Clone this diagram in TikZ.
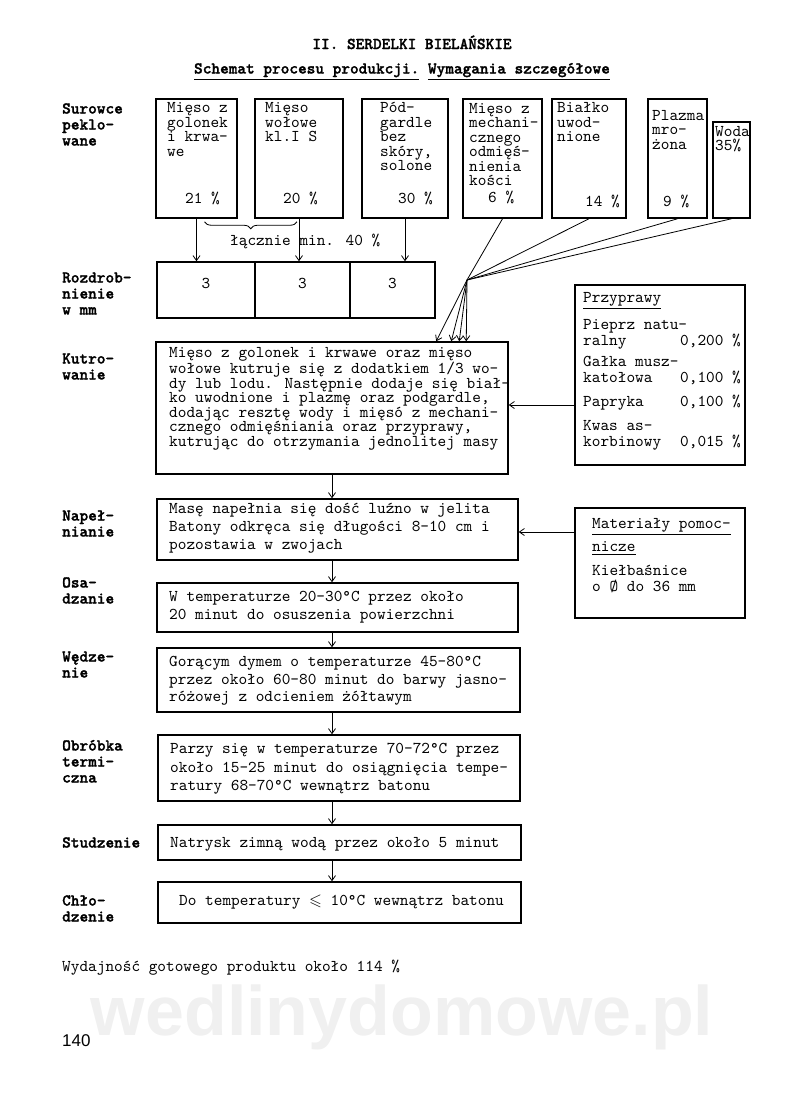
\documentclass[tikz,border=0pt]{standalone}
\usepackage{fontspec}
\usepackage{amssymb}
\setmainfont{Liberation Serif}
\newfontfamily\typewfont{lmmono10-regular.otf}[BoldFont=lmmonolt10-bold.otf,BoldFeatures={FakeBold=1.5}]
\newfontfamily\pagefont{Liberation Sans}
\usetikzlibrary{arrows.meta,decorations.pathreplacing,calc}
\tikzset{
  rawbox/.style={rectangle,draw,line width=1.5pt,inner sep=0pt},
  stepbox/.style={rectangle,draw,line width=1.5pt,inner sep=0pt},
  mincebox/.style={rectangle,draw,line width=1.5pt,inner sep=0pt,minimum height=56pt,text depth=14pt,font=\typewfont\fontsize{16.5}{16}\selectfont},
  txt/.style={anchor=base west,inner sep=0pt,align=left,font=\typewfont\fontsize{16.5}{#1}\selectfont},
  txt/.default=14,
  lbl/.style={anchor=base west,inner sep=0pt,align=left,font=\typewfont\bfseries\fontsize{16.5}{16}\selectfont},
  flow/.style={->,line width=0.8pt},
  feed/.style={line width=0.8pt}
}

\begin{document}
\begin{tikzpicture}[x=1pt,y=-1pt,>={Straight Barb[length=5pt,width=7pt]}]
  \useasboundingbox (0,0) rectangle (800,1098);
  \node[font=\typewfont\bfseries\fontsize{16.5}{16}\selectfont,anchor=base,inner sep=0pt] (title) at (412,49) {II. SERDELKI BIELAŃSKIE};
  \node[font=\typewfont\bfseries\fontsize{16.5}{16}\selectfont,anchor=base,inner sep=0pt] (subtitle) at (402,73.5) {\underline{Schemat procesu produkcji.} \underline{Wymagania szczegółowe}};

  \node[lbl] (surowce) at (62,145.5) {Surowce\\peklo-\\wane};
  \node[lbl] (rozdroblbl) at (62,314.5) {Rozdrob-\\nienie\\w mm};
  \node[lbl] (kutrolbl) at (62,379.5) {Kutro-\\wanie};
  \node[lbl] (naplbl) at (62,536.5) {Napeł-\\nianie};
  \node[lbl] (osadlbl) at (62,603.5) {Osa-\\dzanie};
  \node[lbl] (wedzlbl) at (62,677.5) {Wędze-\\nie};
  \node[lbl] (obroblbl) at (62,782.5) {Obróbka\\termi-\\czna};
  \node[lbl] (studlbl) at (62,847.5) {Studzenie};
  \node[lbl] (chlodlbl) at (62,921.5) {Chło-\\dzenie};

  \node[rawbox,minimum width=81,minimum height=119] (golonek) at (196.5,158.5) {};
  \node[rawbox,minimum width=88,minimum height=119] (wolowe) at (299,158.5) {};
  \node[rawbox,minimum width=86,minimum height=119] (podgardle) at (405,158.5) {};
  \node[rawbox,minimum width=79,minimum height=119] (mech) at (502.5,158.5) {};
  \node[rawbox,minimum width=74,minimum height=119] (bialko) at (589,158.5) {};
  \node[rawbox,minimum width=59,minimum height=119] (plazma) at (677.5,158.5) {};
  \node[rawbox,minimum width=37,minimum height=96] (woda) at (731.5,170) {};
  \node[txt=14.5] (golonektxt) at (167,156) {Mięso z\\golonek\\i krwa-\\we};
  \node[txt] (golonekpct) at (185,203.5) {21 \%};
  \node[txt=14.5] (wolowetxt) at (265,141.5) {Mięso\\wołowe\\kl.I S};
  \node[txt] (wolowepct) at (283,203.5) {20 \%};
  \node[txt=14.5] (podgardletxt) at (380,170.5) {Pód-\\gardle\\bez\\skóry,\\solone};
  \node[txt] (podgardlepct) at (398,203.5) {30 \%};
  \node[txt=14.5] (mechtxt) at (469,185.5) {Mięso z\\mechani-\\cznego\\odmięś-\\nienia\\kości};
  \node[txt] (mechpct) at (488,202) {6 \%};
  \node[txt=14.5] (bialkotxt) at (557,141.5) {Białko\\uwod-\\nione};
  \node[txt] (bialkopct) at (585,206.5) {14 \%};
  \node[txt=14.5] (plazmatxt) at (652,149) {Plazma\\mro-\\żona};
  \node[txt] (plazmapct) at (663,206.5) {9 \%};
  \node[txt=14.5] (wodatxt) at (715,150.5) {Woda\\35\%};

  \node[mincebox,minimum width=98] (r1) at (206,290) {3};
  \node[mincebox,minimum width=95] (r2) at (302.5,290) {3};
  \node[mincebox,minimum width=85] (r3) at (392.5,290) {3};
  \draw[flow] (golonek.south) -- (golonek.south |- r1.north);
  \draw[flow] (wolowe.south) -- (wolowe.south |- r2.north);
  \draw[flow] (podgardle.south) -- (podgardle.south |- r3.north);
  \draw[feed,decorate,decoration={brace,mirror,amplitude=7pt}] ([xshift=8pt,yshift=-3pt]golonek.south) -- ([xshift=-2pt,yshift=-3pt]wolowe.south);
  \node[txt] (lacznie) at (230,245.5) {łącznie min. 40 \%};

  \node[stepbox,minimum width=352,minimum height=132] (kutro) at (332,408) {};
  \node[txt=14.6] (kutrotxt) at (169,446.5) {Mięso z golonek i krwawe oraz mięso\\wołowe kutruje się z dodatkiem 1/3 wo-\\dy lub lodu. Następnie dodaje się biał-\\ko uwodnione i plazmę oraz podgardle,\\dodając resztę wody i mięsó z mechani-\\cznego odmięśniania oraz przyprawy,\\kutrując do otrzymania jednolitej masy};
  \coordinate (hub) at (467,280);
  \draw[feed] (mech.south) -- (hub);
  \draw[feed] (bialko.south) -- (hub);
  \draw[feed] (plazma.south) -- (hub);
  \draw[feed] (woda.south) -- (hub);
  \draw[flow] (hub) -- ([xshift=281pt]kutro.north west);
  \draw[flow] (hub) -- ([xshift=296pt]kutro.north west);
  \draw[flow] (hub) -- ([xshift=304pt]kutro.north west);
  \draw[flow] (hub) -- ([xshift=311pt]kutro.north west);

  \node[stepbox,minimum width=170,minimum height=180] (przypr) at (660,375) {};
  \node[txt=16] (przyprtxt) at (583,446.5) {\underline{Przyprawy}\\[9pt]Pieprz natu-\\ralny\\[5pt]Gałka musz-\\katołowa\\[8pt]Papryka\\[8pt]Kwas as-\\korbinowy};
  \node[txt=16] (przyprpct) at (680,446.5) {0,200 \%\\[21pt]0,100 \%\\[8pt]0,100 \%\\[24pt]0,015 \%};
  \coordinate (spicein) at ([yshift=-30pt]przypr.west);
  \draw[flow] (spicein) -- (spicein -| kutro.east);

  \node[stepbox,minimum width=361,minimum height=61] (nap) at (337.5,529.5) {};
  \node[txt=18] (naptxt) at (169,549.5) {Masę napełnia się dość luźno w jelita\\Batony odkręca się długości 8–10 cm i\\pozostawia w zwojach};
  \node[stepbox,minimum width=170,minimum height=110] (mat) at (660,563) {};
  \node[txt] (mattxt) at (592,591.5) {\underline{Materiały pomoc-}\\[5pt]\underline{nicze}\\[10pt]Kiełbaśnice\\[2pt]o Ø do 36 mm};
  \coordinate (casingin) at ([yshift=31pt]mat.west);
  \draw[flow] (casingin) -- (casingin -| nap.east);

  \node[stepbox,minimum width=361,minimum height=49] (osad) at (337.5,607.5) {};
  \node[txt=18] (osadtxt) at (169,619.5) {W temperaturze 20-30°C przez około\\20 minut do osuszenia powierzchni};
  \node[stepbox,minimum width=363,minimum height=64] (wedz) at (338.5,680) {};
  \node[txt=17.5] (wedztxt) at (169,701.5) {Gorącym dymem o temperaturze 45-80°C\\przez około 60-80 minut do barwy jasno-\\różowej z odcieniem żółtawym};
  \node[stepbox,minimum width=362,minimum height=66] (obrob) at (339,768) {};
  \node[txt=18.5] (obrobtxt) at (170,790.5) {Parzy się w temperaturze 70-72°C przez\\około 15–25 minut do osiągnięcia tempe-\\ratury 68-70°C wewnątrz batonu};
  \node[stepbox,minimum width=363,minimum height=35] (stud) at (339.5,842.5) {};
  \node[txt] (studtxt) at (170,847.5) {Natrysk zimną wodą przez około 5 minut};
  \node[stepbox,minimum width=363,minimum height=41] (chlod) at (339.5,902.5) {};
  \node[txt] (chlodtxt) at (179,905.5) {Do temperatury $\leqslant$ 10°C wewnątrz batonu};

  \draw[flow] (kutro.south) -- (kutro.south |- nap.north);
  \draw[flow] (nap.south -| kutro.south) -- (kutro.south |- osad.north);
  \draw[flow] (osad.south -| kutro.south) -- (kutro.south |- wedz.north);
  \draw[flow] (wedz.south -| kutro.south) -- (kutro.south |- obrob.north);
  \draw[flow] (obrob.south -| kutro.south) -- (kutro.south |- stud.north);
  \draw[flow] (stud.south -| kutro.south) -- (kutro.south |- chlod.north);

  \node[txt] (wydajnosc) at (62,971.5) {Wydajność gotowego produktu około 114 \%};
  \node[anchor=base,inner sep=0pt,font=\pagefont\bfseries\fontsize{70}{80}\selectfont,text=black!6] (watermark) at (402,1035) {wedlinydomowe.pl};
  \node[anchor=base west,inner sep=0pt,font=\pagefont\fontsize{17}{20}\selectfont] (pagenum) at (62,1046) {140};
\end{tikzpicture}
\end{document}
